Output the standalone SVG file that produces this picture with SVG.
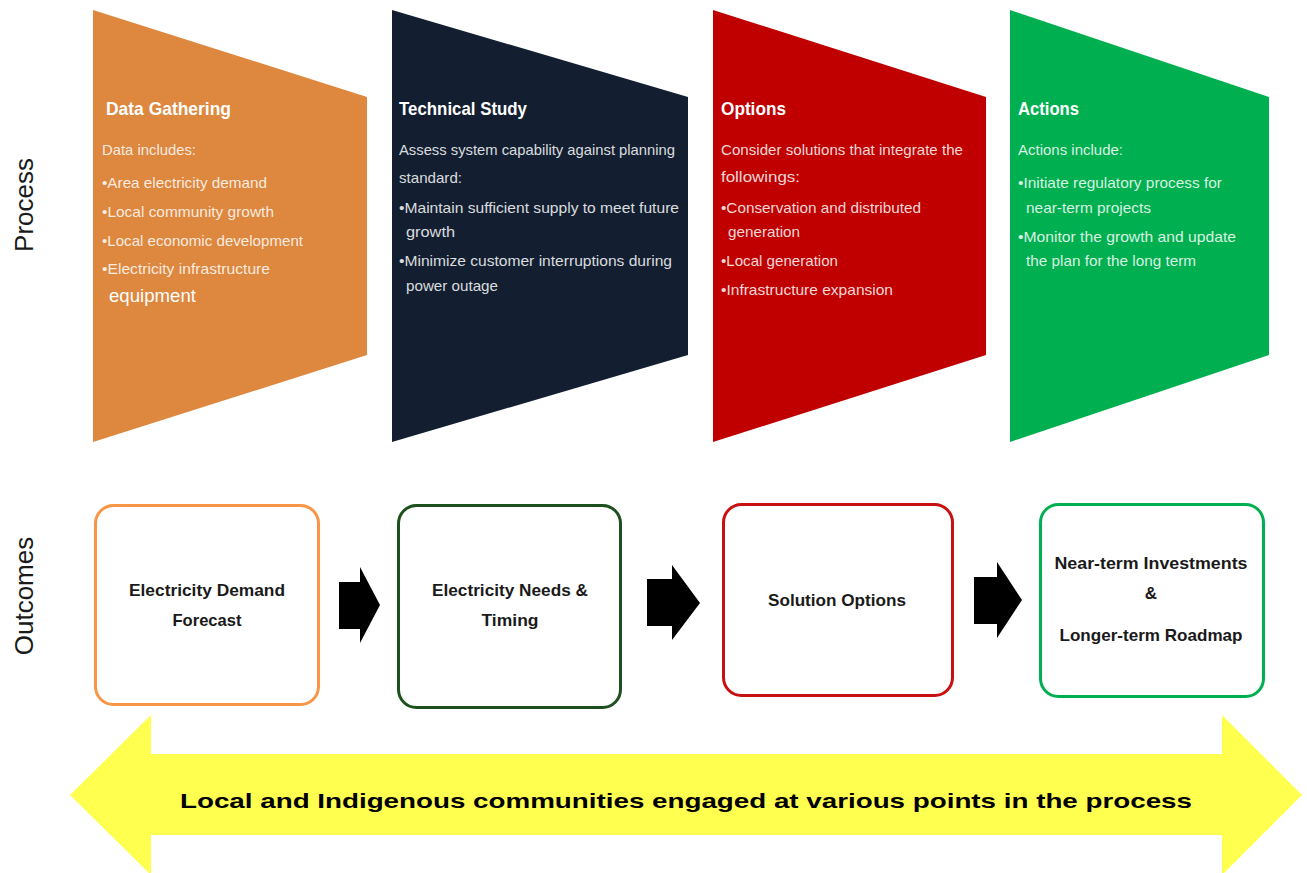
<svg xmlns="http://www.w3.org/2000/svg" width="1307" height="873" viewBox="0 0 1307 873">
<style>
.ttl{font-family:"Liberation Sans",Arial,sans-serif;font-weight:bold;font-size:19px;fill:#ffffff}
.bd{font-family:"Liberation Sans",Arial,sans-serif;font-size:14.5px;fill:#ffffff;fill-opacity:0.85}
.side{font-family:"Liberation Sans",Arial,sans-serif;font-size:26px;fill:#1a1a1a;text-anchor:middle}
.out{font-family:"Liberation Sans",Arial,sans-serif;font-weight:bold;font-size:17px;fill:#1a1a1a;text-anchor:middle}
.box{fill:#ffffff;stroke-width:3}
.blk{fill:#000000}
</style>
<rect width="1307" height="873" fill="#ffffff"/>
<text class="side" transform="translate(33,205) rotate(-90)">Process</text>
<text class="side" transform="translate(33,596) rotate(-90)">Outcomes</text>

<g id="data-gathering">
<polygon points="93,10 367,97 367,355 93,442" fill="#DE873E"/>
<text class="ttl" x="106" y="115" textLength="125" lengthAdjust="spacingAndGlyphs">Data Gathering</text>
<text class="bd" x="102" y="155" textLength="94" lengthAdjust="spacingAndGlyphs">Data includes:</text>
<text class="bd" x="102" y="188" textLength="165" lengthAdjust="spacingAndGlyphs">•Area electricity demand</text>
<text class="bd" x="102" y="217" textLength="172" lengthAdjust="spacingAndGlyphs">•Local community growth</text>
<text class="bd" x="102" y="246" textLength="201" lengthAdjust="spacingAndGlyphs">•Local economic development</text>
<text class="bd" x="102" y="274" textLength="168" lengthAdjust="spacingAndGlyphs">•Electricity infrastructure</text>
<text class="bd" x="109" y="302" style="font-size:18px;fill-opacity:1" textLength="87" lengthAdjust="spacingAndGlyphs">equipment</text>
</g>

<g id="technical-study">
<polygon points="392,10 688,97 688,355 392,442" fill="#131F31"/>
<text class="ttl" x="399" y="115" textLength="128" lengthAdjust="spacingAndGlyphs">Technical Study</text>
<text class="bd" x="399" y="155" textLength="276" lengthAdjust="spacingAndGlyphs">Assess system capability against  planning</text>
<text class="bd" x="399" y="183" textLength="63" lengthAdjust="spacingAndGlyphs">standard:</text>
<text class="bd" x="399" y="213" textLength="280" lengthAdjust="spacingAndGlyphs">•Maintain sufficient supply to meet future</text>
<text class="bd" x="406" y="237" textLength="49" lengthAdjust="spacingAndGlyphs">growth</text>
<text class="bd" x="399" y="266" textLength="273" lengthAdjust="spacingAndGlyphs">•Minimize customer interruptions during</text>
<text class="bd" x="406" y="291" textLength="92" lengthAdjust="spacingAndGlyphs">power outage</text>
</g>

<g id="options">
<polygon points="713,10 986,97 986,355 713,442" fill="#C00000"/>
<text class="ttl" x="721" y="115" textLength="65" lengthAdjust="spacingAndGlyphs">Options</text>
<text class="bd" x="721" y="155" textLength="242" lengthAdjust="spacingAndGlyphs">Consider solutions that integrate the</text>
<text class="bd" x="721" y="182" textLength="79" lengthAdjust="spacingAndGlyphs">followings:</text>
<text class="bd" x="721" y="213" textLength="200" lengthAdjust="spacingAndGlyphs">•Conservation and distributed</text>
<text class="bd" x="728" y="237" textLength="72" lengthAdjust="spacingAndGlyphs">generation</text>
<text class="bd" x="721" y="266" textLength="117" lengthAdjust="spacingAndGlyphs">•Local generation</text>
<text class="bd" x="721" y="295" textLength="172" lengthAdjust="spacingAndGlyphs">•Infrastructure expansion</text>
</g>

<g id="actions">
<polygon points="1010,10 1269,97 1269,355 1010,442" fill="#00B050"/>
<text class="ttl" x="1018" y="115" textLength="61" lengthAdjust="spacingAndGlyphs">Actions</text>
<text class="bd" x="1018" y="155" textLength="105" lengthAdjust="spacingAndGlyphs">Actions include:</text>
<text class="bd" x="1018" y="188" textLength="204" lengthAdjust="spacingAndGlyphs">•Initiate regulatory process for</text>
<text class="bd" x="1026" y="213" textLength="125" lengthAdjust="spacingAndGlyphs">near-term projects</text>
<text class="bd" x="1018" y="242" textLength="218" lengthAdjust="spacingAndGlyphs">•Monitor the growth and update</text>
<text class="bd" x="1026" y="266" textLength="170" lengthAdjust="spacingAndGlyphs">the plan for the long term</text>
</g>

<g id="outcome-forecast">
<rect class="box" x="95.5" y="505.5" width="223" height="199" rx="18" stroke="#F79646"/>
<text class="out" x="207" y="596" textLength="156" lengthAdjust="spacingAndGlyphs">Electricity Demand</text>
<text class="out" x="207" y="626" textLength="69" lengthAdjust="spacingAndGlyphs">Forecast</text>
</g>

<g id="outcome-needs">
<rect class="box" x="398.5" y="505.5" width="222" height="202" rx="18" stroke="#1E4F1E"/>
<text class="out" x="510" y="596" textLength="156" lengthAdjust="spacingAndGlyphs">Electricity Needs &amp;</text>
<text class="out" x="510" y="626" textLength="57" lengthAdjust="spacingAndGlyphs">Timing</text>
</g>

<g id="outcome-solutions">
<rect class="box" x="723.5" y="504.5" width="229" height="191" rx="18" stroke="#C81010"/>
<text class="out" x="837" y="606" textLength="138" lengthAdjust="spacingAndGlyphs">Solution Options</text>
</g>

<g id="outcome-investments">
<rect class="box" x="1040.5" y="504.5" width="223" height="192" rx="18" stroke="#00B050"/>
<text class="out" x="1151" y="569" textLength="193" lengthAdjust="spacingAndGlyphs">Near-term Investments</text>
<text class="out" x="1151" y="599">&amp;</text>
<text class="out" x="1151" y="641" textLength="183" lengthAdjust="spacingAndGlyphs">Longer-term Roadmap</text>
</g>

<g id="connectors">
<polygon class="blk" points="339,582 360,582 360,567 380,605 360,643 360,629 339,629"/>
<polygon class="blk" points="647,579 672,579 672,565 700,603 672,640 672,626 647,626"/>
<polygon class="blk" points="974,577 997,577 997,562 1022,600 997,638 997,624 974,624"/>
</g>

<g id="engagement-arrow">
<polygon points="70,795 151,715 151,754 1222,754 1222,715 1302,795 1222,875 1222,835 151,835 151,875" fill="#FFFF4F"/>
<text x="686" y="808" text-anchor="middle" style="font-family:'Liberation Sans',Arial,sans-serif;font-weight:bold;font-size:21px;fill:#000000" textLength="1012" lengthAdjust="spacingAndGlyphs">Local and Indigenous communities engaged at various points in the process</text>
</g>
</svg>
